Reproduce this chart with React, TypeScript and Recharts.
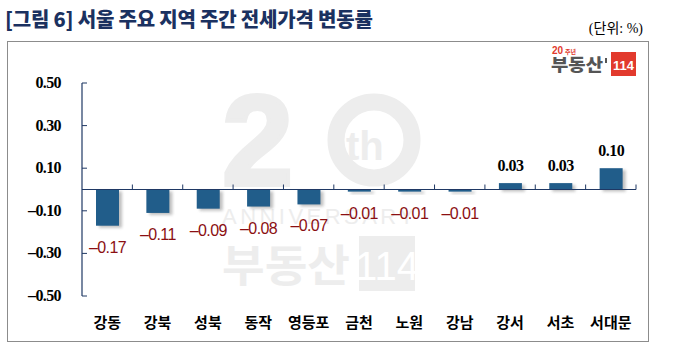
import { BarChart, Bar, XAxis, YAxis, ReferenceLine } from "recharts";

const regions = ["강동", "강북", "성북", "동작", "영등포", "금천", "노원", "강남", "강서", "서초", "서대문"];
const changes = [-0.17, -0.11, -0.09, -0.08, -0.07, -0.01, -0.01, -0.01, 0.03, 0.03, 0.1];
const yTicks = [-0.5, -0.3, -0.1, 0.1, 0.3, 0.5];

const data = regions.map((name, i) => ({ name, v: changes[i] }));

const NAVY = "#1f3864";
const BAR = "#215d8a";
const WM = "#ededed";

const fmt = (v: number) => (v < 0 ? "\u2013" : "") + Math.abs(v).toFixed(2);

function YTick(props: any) {
  const { x, y, payload } = props;
  // tickSize 0, tickMargin 21 -> axis line sits 21px right of x
  return (
    <g>
      <line x1={x + 21} x2={x + 26} y1={y} y2={y} stroke={NAVY} strokeWidth={1} />
      <text x={x} y={y + 5} textAnchor="end" fontFamily="'Liberation Serif', serif" fontWeight={700} fontSize={16} letterSpacing={-0.6} fill="#000">
        {fmt(payload.value)}
      </text>
    </g>
  );
}

function XTick(props: any) {
  const { x, y, payload } = props;
  return (
    <text x={x} y={y + 10} textAnchor="middle" fontFamily="'Noto Sans CJK KR', sans-serif" fontWeight={700} fontSize={15} fill="#000">
      {payload.value}
    </text>
  );
}

function ShadowBar(props: any) {
  const { x, y, width, height, index, payload } = props;
  const top = Math.min(y, y + height);
  const h = Math.abs(height);
  const v = payload.v as number;
  const fid = `sh${index}`;
  return (
    <g>
      <defs>
        <filter id={fid} x="-50%" y="-50%" width="200%" height="200%">
          <feGaussianBlur stdDeviation={1.5} />
        </filter>
      </defs>
      <rect x={x + 3} y={top + 2} width={width} height={h} fill="#8a8a8a" opacity={0.55} filter={`url(#${fid})`} />
      <rect x={x} y={top} width={width} height={h} fill={BAR} />
      {v < 0 ? (
        <text x={x + width / 2} y={top + h + 27} textAnchor="middle" fontFamily="'Liberation Sans', sans-serif" fontSize={16} letterSpacing={-0.6} fill="#8b0f12">
          {fmt(v)}
        </text>
      ) : (
        <text x={x + width / 2} y={top - 12} textAnchor="middle" fontFamily="'Liberation Serif', serif" fontWeight={700} fontSize={16} letterSpacing={-0.5} fill="#000">
          {fmt(v)}
        </text>
      )}
    </g>
  );
}

function ZeroLine(props: any) {
  const { x1, x2, y1 } = props;
  const n = regions.length;
  const step = (x2 - x1) / n;
  return (
    <g>
      <line x1={x1} x2={x2} y1={y1} y2={y1} stroke={NAVY} strokeWidth={1.2} />
      {regions.map((_, i) => (
        <line key={i} x1={x1 + step * (i + 1)} x2={x1 + step * (i + 1)} y1={y1} y2={y1 - 5} stroke={NAVY} strokeWidth={1} />
      ))}
    </g>
  );
}

function Watermark() {
  return (
    <svg width={691} height={362} style={{ position: "absolute", left: 0, top: 0 }}>
      <text x={222} y={185} fontFamily="'Liberation Sans', sans-serif" fontWeight={700} fontSize={128} fill={WM} stroke={WM} strokeWidth={4}>2</text>
      <circle cx={374} cy={140} r={38} fill="none" stroke={WM} strokeWidth={17} />
      <text x={346} y={160} fontFamily="'Liberation Sans', sans-serif" fontWeight={700} fontSize={40} fill={WM}>th</text>
      <text x={222} y={224} fontFamily="'Liberation Sans', sans-serif" fontSize={22} fill={WM} textLength={192} lengthAdjust="spacing">ANNIVERSARY</text>
      <text x={222} y={282} fontFamily="'Noto Sans CJK KR', sans-serif" fontWeight={700} fontSize={44} fill={WM} textLength={128} lengthAdjust="spacingAndGlyphs">부동산</text>
      <rect x={359} y={236} width={56} height={55} fill={WM} />
      <text x={387} y={280} textAnchor="middle" fontFamily="'Liberation Sans', sans-serif" fontSize={40} fill="#fff">114</text>
    </svg>
  );
}

function Logo() {
  return (
    <svg width={691} height={362} style={{ position: "absolute", left: 0, top: 0 }}>
      <text x={552} y={54} fontFamily="'Liberation Sans', sans-serif" fontWeight={700} fontSize={10} fill="#e23a2d">20</text>
      <text x={565} y={54} fontFamily="'Noto Sans CJK KR', sans-serif" fontWeight={700} fontSize={6} fill="#e23a2d">주년</text>
      <text x={551} y={71} fontFamily="'Noto Sans CJK KR', sans-serif" fontWeight={900} fontSize={17} fill="#555" textLength={52} lengthAdjust="spacingAndGlyphs">부동산</text>
      <rect x={605} y={58} width={2} height={5} fill="#555" />
      <rect x={611} y={52} width={25} height={24} fill="#e23a2d" />
      <text x={623.5} y={70} textAnchor="middle" fontFamily="'Liberation Sans', sans-serif" fontWeight={700} fontSize={13} fill="#fff">114</text>
    </svg>
  );
}

export default function App() {
  return (
    <div style={{ position: "absolute", left: 0, top: 0, width: 691, height: 362, background: "#fff", overflow: "hidden" }}>
      <div
        style={{
          position: "absolute",
          left: 5,
          top: 5,
          fontFamily: "'Noto Sans CJK KR', sans-serif",
          fontWeight: 900,
          fontSize: 20,
          color: "#1b3160",
          letterSpacing: -0.2,
          whiteSpace: "nowrap",
          lineHeight: "28px",
        }}
      >
        [그림 6] 서울 주요 지역 주간 전세가격 변동률
      </div>
      <div
        style={{
          position: "absolute",
          right: 48,
          top: 17,
          fontFamily: "'Liberation Serif', 'Noto Sans CJK KR', serif",
          fontSize: 14,
          color: "#000",
          whiteSpace: "nowrap",
        }}
      >
        (단위: %)
      </div>
      <div style={{ position: "absolute", left: 7, top: 41, width: 640, height: 299, border: "1px solid #8c8c8c" }} />
      <Watermark />
      <Logo />
      <div style={{ position: "absolute", left: 0, top: 0 }}>
        <BarChart width={691} height={362} data={data} margin={{ top: 83, right: 55, bottom: 36, left: 22 }}>
          <YAxis
            domain={[-0.5, 0.5]}
            ticks={yTicks}
            width={60}
            axisLine={{ stroke: NAVY, strokeWidth: 1.2 }}
            tickLine={false}
            tickSize={0}
            tickMargin={21}
            tick={<YTick />}
            interval={0}
            allowDataOverflow
          />
          <XAxis dataKey="name" height={30} axisLine={false} tickLine={false} tickSize={0} tickMargin={22} tick={<XTick />} interval={0} />
          <Bar dataKey="v" barSize={23} shape={<ShadowBar />} isAnimationActive={false} />
          <ReferenceLine y={0} shape={<ZeroLine />} />
        </BarChart>
      </div>
    </div>
  );
}
